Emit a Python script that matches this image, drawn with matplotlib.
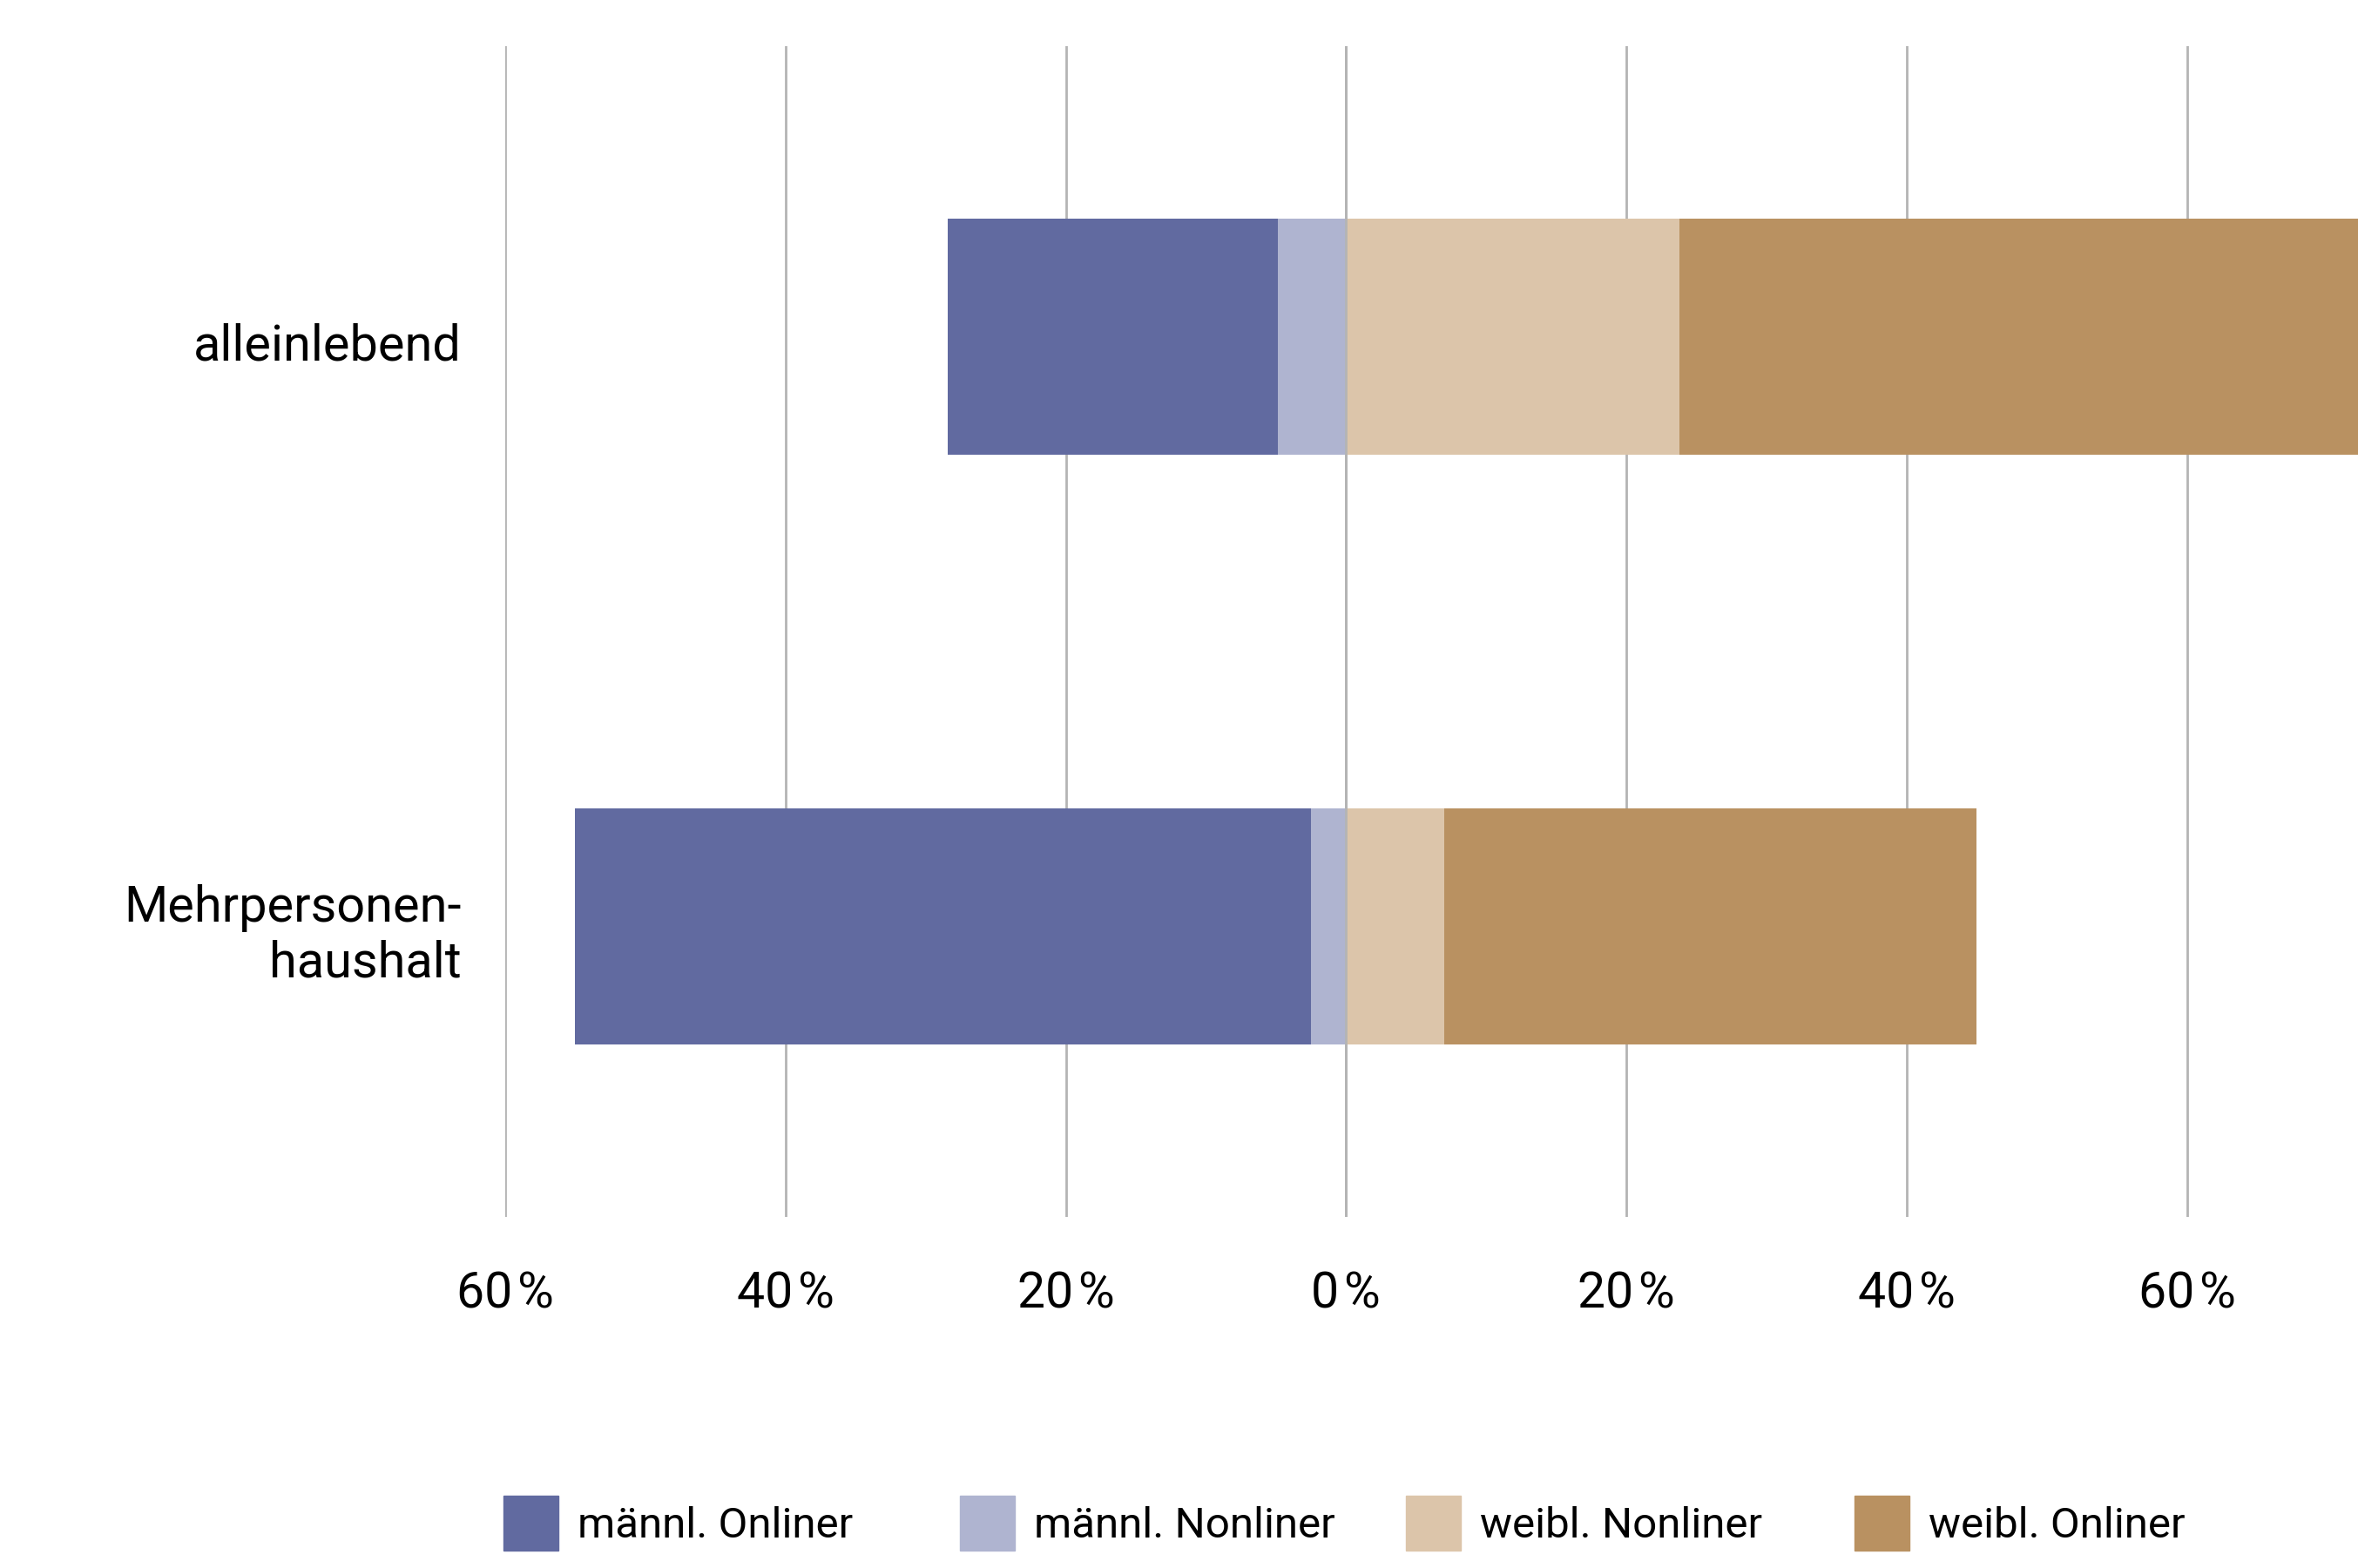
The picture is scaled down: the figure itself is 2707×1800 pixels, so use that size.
import matplotlib.pyplot as plt
from matplotlib.patches import Rectangle
from matplotlib.transforms import ScaledTranslation

plt.rcParams['font.family'] = ['Roboto', 'DejaVu Sans']

# data (percent); male shares drawn to the left of zero
categories = ['alleinlebend', 'Mehrpersonen-\nhaushalt']
maennl_onliner = [23.5, 52.5]
maennl_nonliner = [4.9, 2.5]
weibl_nonliner = [23.8, 7.0]
weibl_onliner = [50.0, 38.0]

series_labels = ['männl. Onliner', 'männl. Nonliner', 'weibl. Nonliner', 'weibl. Onliner']
colors = ['#616aa0', '#afb4d0', '#dcc5aa', '#b99161']
tick_values = [-60, -40, -20, 0, 20, 40, 60]

W, H = 2707, 1800
fig = plt.figure(figsize=(W / 100, H / 100), dpi=100)
ax = fig.add_axes([580 / W, 1 - 1397 / H, 1 - 580 / W, (1397 - 53) / H])

ypos = list(range(len(categories)))
bar_h = 0.4

# left side: nonliner next to zero, onliner further out
ax.barh(ypos, [-v for v in maennl_nonliner], height=bar_h, color=colors[1], zorder=2)
ax.barh(ypos, [-v for v in maennl_onliner], left=[-v for v in maennl_nonliner],
        height=bar_h, color=colors[0], zorder=2)
# right side
ax.barh(ypos, weibl_nonliner, height=bar_h, color=colors[2], zorder=2)
ax.barh(ypos, weibl_onliner, left=weibl_nonliner, height=bar_h, color=colors[3], zorder=2)

ax.axvline(0, color='#b4b4b4', linewidth=2, zorder=3)

ax.set_xlim(-60, 72.2)
ax.set_ylim(1.4926, -0.4926)

ax.set_xticks(tick_values)
ax.set_xticklabels([f'{abs(v)}\u200a%' for v in tick_values], fontsize=41)
ax.set_yticks(ypos)
ax.set_yticklabels(categories, fontsize=41.5, linespacing=1.2)
ax.tick_params(axis='x', length=0, pad=44)
ax.tick_params(axis='y', length=0, pad=36)

# single-line label sits a bit lower in the original
lbl = ax.get_yticklabels()[0]
lbl.set_transform(lbl.get_transform() + ScaledTranslation(0, -4 / 72, fig.dpi_scale_trans))

ax.grid(axis='x', color='#b4b4b4', linewidth=2, zorder=0)
ax.set_axisbelow(True)
for s in ax.spines.values():
    s.set_visible(False)

# legend drawn by hand, fixed columns
legend_x = [578, 1102, 1614, 2129]
for x, lab, c in zip(legend_x, series_labels, colors):
    fig.add_artist(Rectangle((x / W, 1 - 1780 / H), 63 / W, 63 / H,
                             transform=fig.transFigure, color=c))
    fig.text((x + 85) / W, 1 - 1752 / H, lab, fontsize=35.5, va='center', ha='left')

fig.savefig('out.png', dpi=100)
